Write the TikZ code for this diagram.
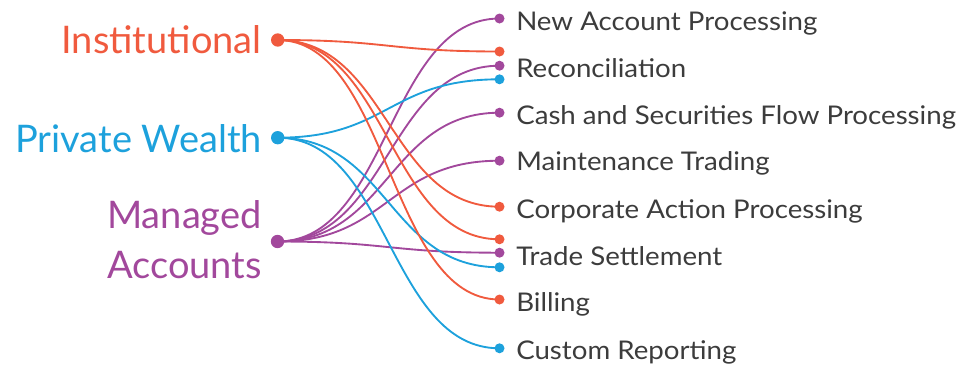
\documentclass[tikz,border=0pt]{standalone}
\usepackage{fontspec}
\setmainfont{Lato}
\newfontfamily\rightfont{Lato}[FakeStretch=1.075]
\usetikzlibrary{calc}
\definecolor{cinst}{HTML}{F05A3E}
\definecolor{cpriv}{HTML}{1DA1DC}
\definecolor{cman}{HTML}{A2489C}
\definecolor{ctext}{HTML}{3C3C3C}
\pgfdeclarelayer{bg}
\pgfsetlayers{bg,main}
\begin{document}
\begin{tikzpicture}[x=0.75pt,y=-0.75pt,
  link/.style={line width=1.4pt, draw=#1,
    to path={let \p1=(\tikztostart), \p2=(\tikztotarget) in
      .. controls ({0.5*\x1+0.5*\x2},\y1) and ({0.5*\x1+0.5*\x2},\y2) .. (\tikztotarget)}},
  src/.style={circle, fill=#1, inner sep=0pt, minimum size=10pt},
  dst/.style={circle, fill=#1, inner sep=0pt, minimum size=7.5pt},
  biglab/.style={font=\fontsize{28.5}{36}\selectfont, text=#1, anchor=base east, inner sep=0pt},
  lab/.style={font=\rightfont\fontsize{19.3}{23}\selectfont, text=ctext, anchor=base west, inner sep=0pt}]
\useasboundingbox (0,0) rectangle (959,365);

% left labels
\node[biglab=cinst] (tinst) at (262,53.3) {Institutional};
\node[biglab=cpriv] (tpriv) at (262,152.7) {Private Wealth};
\node[biglab=cman] (tman1) at (262,228.3) {Managed};
\node[biglab=cman] (tman2) at (262,278.3) {Accounts};

% source dots
\node[src=cinst] (inst) at (277.7,40) {};
\node[src=cpriv] (priv) at (277.7,137.7) {};
\node[src=cman] (man) at (277.5,241.5) {};

% target dots
\node[dst=cman]  (r1)  at (499.5,18.5) {};
\node[dst=cinst] (r2o) at (499.5,51.5) {};
\node[dst=cman]  (r2p) at (499.5,65.7) {};
\node[dst=cpriv] (r2b) at (499.5,79.3) {};
\node[dst=cman]  (r3)  at (499.5,112.7) {};
\node[dst=cman]  (r4)  at (499.5,160.7) {};
\node[dst=cinst] (r5)  at (499.5,206.7) {};
\node[dst=cinst] (r6o) at (499.5,239.3) {};
\node[dst=cman]  (r6p) at (499.5,252.7) {};
\node[dst=cpriv] (r6b) at (499.5,267.3) {};
\node[dst=cinst] (r7)  at (499.5,299.5) {};
\node[dst=cpriv] (r8)  at (499.5,348.3) {};

% right labels
\node[lab] (l1) at (516,30) {New Account Processing};
\node[lab] (l2) at (516,77.3) {Reconciliation};
\node[lab] (l3) at (516,124) {Cash and Securities Flow Processing};
\node[lab] (l4) at (516,170.7) {Maintenance Trading};
\node[lab] (l5) at (516,218) {Corporate Action Processing};
\node[lab] (l6) at (516,265) {Trade Settlement};
\node[lab] (l7) at (516,311.7) {Billing};
\node[lab] (l8) at (516,359) {Custom Reporting};

\begin{pgfonlayer}{bg}
\draw[link=cman] (man.center) to (r1.center);
\draw[link=cman] (man.center) to (r2p.center);
\draw[link=cman] (man.center) to (r3.center);
\draw[link=cman] (man.center) to (r4.center);
\draw[link=cman] (man.center) to (r6p.center);
\draw[link=cpriv] (priv.center) to (r2b.center);
\draw[link=cpriv] (priv.center) to (r6b.center);
\draw[link=cpriv] (priv.center) to (r8.center);
\draw[link=cinst] (inst.center) to (r2o.center);
\draw[link=cinst] (inst.center) to (r5.center);
\draw[link=cinst] (inst.center) to (r6o.center);
\draw[link=cinst] (inst.center) to (r7.center);
\end{pgfonlayer}
\end{tikzpicture}
\end{document}
